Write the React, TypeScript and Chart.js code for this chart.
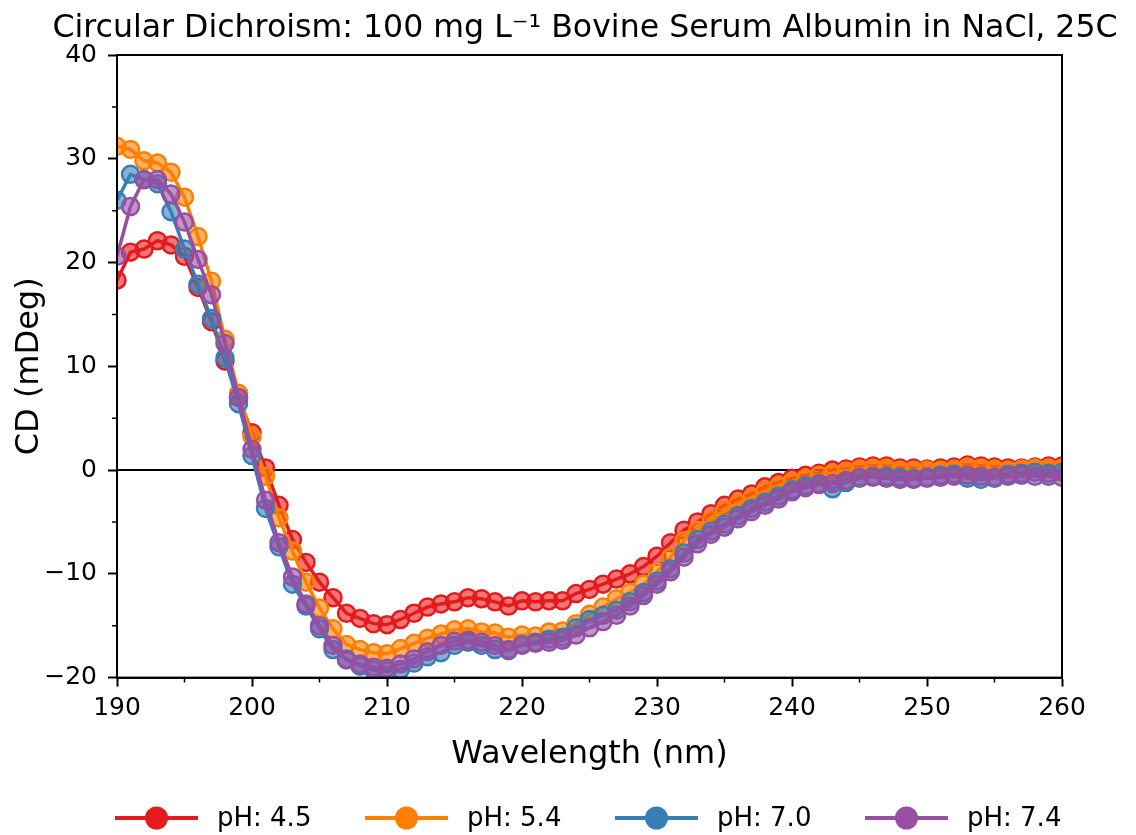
import React, { useEffect, useRef } from "react";
import { Chart, registerables } from "chart.js";

Chart.register(...registerables);

const FONT = "'DejaVu Sans', 'Liberation Sans', sans-serif";

const TITLE = "Circular Dichroism: 100 mg L\u207B\u00B9 Bovine Serum Albumin in NaCl, 25C";
const X_LABEL = "Wavelength (nm)";
const Y_LABEL = "CD (mDeg)";

const wavelengths = [
  190, 191, 192, 193, 194, 195, 196, 197, 198, 199,
  200, 201, 202, 203, 204, 205, 206, 207, 208, 209,
  210, 211, 212, 213, 214, 215, 216, 217, 218, 219,
  220, 221, 222, 223, 224, 225, 226, 227, 228, 229,
  230, 231, 232, 233, 234, 235, 236, 237, 238, 239,
  240, 241, 242, 243, 244, 245, 246, 247, 248, 249,
  250, 251, 252, 253, 254, 255, 256, 257, 258, 259,
  260,
];

const seriesLabels = ["pH: 4.5", "pH: 5.4", "pH: 7.0", "pH: 7.4"];
const seriesColors = ["#e41a1c", "#ff7f00", "#377eb8", "#984ea3"];
const seriesFills = [
  "rgba(228,26,28,0.6)",
  "rgba(255,127,0,0.6)",
  "rgba(55,126,184,0.6)",
  "rgba(152,78,163,0.6)",
];

const ph45 = [
  18.3, 21.0, 21.3, 22.1, 21.7, 20.6, 17.6, 14.3, 10.5, 7.0,
  3.6, 0.2, -3.4, -6.7, -8.9, -10.8, -12.3, -13.8, -14.3, -14.8,
  -14.9, -14.4, -13.8, -13.2, -12.9, -12.7, -12.3, -12.4, -12.7, -13.1,
  -12.6, -12.7, -12.6, -12.6, -11.9, -11.5, -11.0, -10.5, -10.0, -9.3,
  -8.3, -7.0, -5.8, -5.0, -4.2, -3.4, -2.8, -2.3, -1.6, -1.2,
  -0.8, -0.5, -0.3, 0.0, 0.1, 0.3, 0.4, 0.4, 0.2, 0.2,
  0.1, 0.2, 0.3, 0.5, 0.4, 0.3, 0.2, 0.2, 0.3, 0.4,
  0.4,
];

const ph54 = [
  31.2, 30.9, 29.8, 29.6, 28.7, 26.3, 22.5, 18.2, 12.6, 7.4,
  3.2, -0.6, -4.6, -7.8, -10.8, -13.3, -15.3, -16.8, -17.3, -17.6,
  -17.7, -17.2, -16.7, -16.2, -15.8, -15.4, -15.3, -15.6, -15.7, -16.1,
  -15.9, -16.0, -15.6, -15.5, -14.8, -13.9, -13.2, -12.4, -11.8, -11.0,
  -9.8, -8.4, -6.8, -5.8, -4.8, -3.9, -3.2, -2.7, -2.0, -1.5,
  -1.1, -0.8, -0.5, -0.3, -0.1, 0.1, 0.2, 0.2, 0.0, 0.0,
  0.0, 0.0, 0.1, 0.3, 0.2, 0.1, 0.0, 0.1, 0.2, 0.2,
  0.2,
];

const ph70 = [
  26.0, 28.5, 28.0, 27.6, 24.9, 21.3, 17.9, 14.6, 10.8, 6.4,
  1.4, -3.7, -7.4, -11.0, -13.1, -15.3, -17.3, -18.2, -18.9, -19.3,
  -19.4, -19.2, -18.6, -18.0, -17.6, -16.9, -16.6, -16.9, -17.3, -17.4,
  -16.8, -16.6, -16.3, -16.1, -15.2, -14.4, -14.0, -13.5, -12.7, -11.8,
  -10.7, -9.5, -8.0, -6.7, -5.9, -5.2, -4.4, -3.7, -3.1, -2.5,
  -1.9, -1.5, -1.3, -1.8, -1.2, -0.8, -0.6, -0.6, -0.7, -0.8,
  -0.7, -0.5, -0.4, -0.8, -0.9, -0.8, -0.4, -0.3, -0.2, -0.3,
  -0.2,
];

const ph74 = [
  20.6, 25.4, 28.0, 28.0, 26.6, 23.9, 20.3, 16.9, 12.2, 7.0,
  2.0, -2.9, -7.0, -10.3, -12.9, -15.0, -16.9, -18.3, -18.7, -19.0,
  -19.1, -18.7, -18.2, -17.5, -16.9, -16.5, -16.4, -16.6, -16.9, -17.3,
  -16.9, -16.7, -16.6, -16.4, -15.9, -15.2, -14.6, -14.0, -13.1, -12.1,
  -11.0, -9.8, -8.4, -7.1, -6.2, -5.5, -4.7, -4.0, -3.4, -2.8,
  -2.1, -1.7, -1.4, -1.3, -1.0, -0.7, -0.7, -0.8, -0.9, -0.9,
  -0.8, -0.7, -0.6, -0.5, -0.6, -0.7, -0.6, -0.5, -0.6, -0.6,
  -0.7,
];

const seriesValues = [ph45, ph54, ph70, ph74];

const xMajorTicks = [190, 200, 210, 220, 230, 240, 250, 260];
const xMinorTicks = [195, 205, 215, 225, 235, 245, 255];
const yMajorTicks = [-20, -10, 0, 10, 20, 30, 40];
const yMinorTicks = [-15, -5, 5, 15, 25, 35];

const fmtNum = (v: number) => (v < 0 ? "\u2212" + Math.abs(v) : String(v));

const titlePlugin = {
  id: "customTitle",
  afterDraw(chart: any) {
    const { ctx } = chart;
    ctx.save();
    ctx.font = `31.6px ${FONT}`;
    ctx.fillStyle = "#000";
    ctx.textAlign = "center";
    ctx.textBaseline = "alphabetic";
    ctx.fillText(TITLE, 585, 37);
    ctx.restore();
  },
};

const framePlugin = {
  id: "framePlugin",
  beforeDatasetsDraw(chart: any) {
    const { ctx, chartArea, scales } = chart;
    const y0 = scales.y.getPixelForValue(0);
    ctx.save();
    ctx.strokeStyle = "#000";
    ctx.lineWidth = 2;
    ctx.beginPath();
    ctx.moveTo(chartArea.left, y0);
    ctx.lineTo(chartArea.right, y0);
    ctx.stroke();
    ctx.restore();
  },
  afterDatasetsDraw(chart: any) {
    const { ctx, chartArea, scales } = chart;
    ctx.save();
    ctx.strokeStyle = "#000";
    ctx.lineWidth = 2;
    ctx.strokeRect(
      chartArea.left,
      chartArea.top,
      chartArea.right - chartArea.left,
      chartArea.bottom - chartArea.top
    );
    ctx.lineWidth = 1.5;
    ctx.beginPath();
    for (const v of xMinorTicks) {
      const px = scales.x.getPixelForValue(v);
      ctx.moveTo(px, chartArea.bottom);
      ctx.lineTo(px, chartArea.bottom + 5);
    }
    for (const v of yMinorTicks) {
      const py = scales.y.getPixelForValue(v);
      ctx.moveTo(chartArea.left, py);
      ctx.lineTo(chartArea.left - 5, py);
    }
    ctx.stroke();
    ctx.restore();
  },
};

const legendPlugin = {
  id: "customLegend",
  afterDraw(chart: any) {
    const { ctx } = chart;
    const y = 818;
    const startX = 115;
    const step = 250;
    const lineLen = 83;
    ctx.save();
    ctx.font = `26px ${FONT}`;
    ctx.textBaseline = "middle";
    ctx.textAlign = "left";
    seriesLabels.forEach((label, i) => {
      const x0 = startX + step * i;
      ctx.strokeStyle = seriesColors[i];
      ctx.lineWidth = 4;
      ctx.beginPath();
      ctx.moveTo(x0, y);
      ctx.lineTo(x0 + lineLen, y);
      ctx.stroke();
      ctx.fillStyle = seriesColors[i];
      ctx.beginPath();
      ctx.arc(x0 + lineLen / 2, y, 11.5, 0, Math.PI * 2);
      ctx.fill();
      ctx.fillStyle = "#000";
      ctx.fillText(label, x0 + lineLen + 19, y + 1);
    });
    ctx.restore();
  },
};

export default function App() {
  const canvasRef = useRef<HTMLCanvasElement | null>(null);

  useEffect(() => {
    if (!canvasRef.current) return;
    const datasets = seriesValues.map((vals, i) => ({
      label: seriesLabels[i],
      data: wavelengths.map((w, j) => ({ x: w, y: vals[j] })),
      borderColor: seriesColors[i],
      backgroundColor: seriesFills[i],
      borderWidth: 3.5,
      pointRadius: 8.5,
      pointBorderWidth: 2.5,
      pointBackgroundColor: seriesFills[i],
      pointBorderColor: seriesColors[i],
      tension: 0,
      order: 4 - i,
    }));

    const chart = new Chart(canvasRef.current, {
      type: "line",
      data: { datasets },
      plugins: [framePlugin, legendPlugin, titlePlugin],
      options: {
        responsive: false,
        animation: false,
        layout: { padding: { left: 0, right: 74, top: 55, bottom: 61 } },
        plugins: {
          legend: { display: false },
          tooltip: { enabled: false },
          title: { display: false },
        },
        scales: {
          x: {
            type: "linear",
            min: 190,
            max: 260,
            afterBuildTicks: (scale: any) => {
              scale.ticks = xMajorTicks.map((v) => ({ value: v }));
            },
            ticks: {
              color: "#000",
              font: { family: FONT, size: 25 },
              padding: 7,
              maxRotation: 0,
              callback: (v: any) => fmtNum(Number(v)),
            },
            grid: {
              drawOnChartArea: false,
              drawTicks: true,
              tickLength: 9,
              tickColor: "#000",
              tickWidth: 2,
            },
            border: { display: true, color: "#000", width: 2 },
            title: {
              display: true,
              text: X_LABEL,
              color: "#000",
              font: { family: FONT, size: 32 },
              padding: { top: 5, bottom: 0 },
            },
          },
          y: {
            type: "linear",
            min: -20,
            max: 40,
            afterBuildTicks: (scale: any) => {
              scale.ticks = yMajorTicks.map((v) => ({ value: v }));
            },
            afterFit: (scale: any) => {
              scale.width = 117;
            },
            ticks: {
              color: "#000",
              font: { family: FONT, size: 25 },
              padding: 11,
              callback: (v: any) => fmtNum(Number(v)),
            },
            grid: {
              drawOnChartArea: false,
              drawTicks: true,
              tickLength: 9,
              tickColor: "#000",
              tickWidth: 2,
            },
            border: { display: true, color: "#000", width: 2 },
            title: {
              display: true,
              text: Y_LABEL,
              color: "#000",
              font: { family: FONT, size: 32 },
              padding: { top: 10, bottom: 0 },
            },
          },
        },
      },
    } as any);

    return () => chart.destroy();
  }, []);

  return (
    <div
      style={{
        position: "absolute",
        left: 0,
        top: 0,
        width: 1136,
        height: 835,
        background: "#fff",
      }}
    >
      <canvas ref={canvasRef} width={1136} height={835} />
    </div>
  );
}
